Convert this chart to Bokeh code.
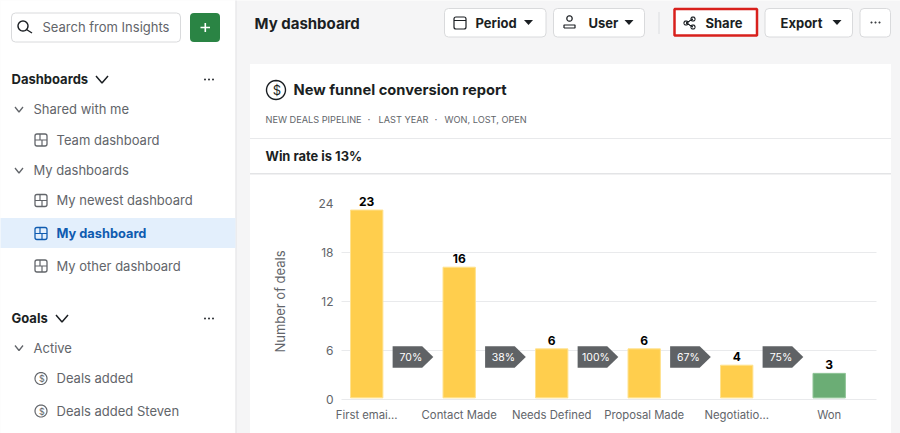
import numpy as np
from bokeh.embed import file_html
from bokeh.models import BoxAnnotation, ColumnDataSource, FixedTicker, Label, LinearAxis, PolyAnnotation, Range1d
from bokeh.plotting import figure
from bokeh.resources import INLINE
from bokeh.core.properties import value

# ---- data -------------------------------------------------------------
stages = ["First emai...", "Contact Made", "Needs Defined", "Proposal Made", "Negotiatio...", "Won"]
deals = [23, 16, 6, 6, 4, 3]
conversion = ["70%", "38%", "100%", "67%", "75%"]
y_ticks = [0, 6, 12, 18, 24]
grid_ticks = [0, 6, 12, 18]

FONT = "Inter"
GREY = "#62656a"
DARK = "#1b1f23"

W, H = 900, 433
# the default ranges are page pixels, for the interface around the chart
p = figure(width=W, height=H, output_backend="svg", toolbar_location=None,
           x_range=Range1d(0, W), y_range=Range1d(H, 0),
           x_axis_location=None, y_axis_location=None,
           min_border=0, min_border_left=0, min_border_right=0, min_border_top=0, min_border_bottom=0,
           background_fill_color="#f5f5f6", border_fill_color="#f5f5f6",
           outline_line_color=None)
p.grid.visible = False

# chart scales: first stage centre at 366.2px, 92.5px per stage; zero at 399px, 8.167px per deal
X0, XS, Y0, YS = 366.2, 92.5, 399.0, 196.0 / 24
p.extra_x_ranges = {"stage": Range1d((0 - X0) / XS, (W - X0) / XS)}
p.extra_y_ranges = {"deals": Range1d((Y0 - H) / YS, Y0 / YS)}

DX, DY = -0.5, -0.5   # shapes
TY = -1.2             # text


def box(x0, y0, x1, y1, fill="#ffffff", line=None, lw=1, radius=0):
    p.add_layout(BoxAnnotation(left=x0 + DX, right=x1 + DX, top=y0 + DY, bottom=y1 + DY,
                               fill_color=fill, fill_alpha=1, line_color=line, line_width=lw, line_alpha=1 if line else 0,
                               border_radius=radius, level="underlay", editable=False))


def poly(xs, ys, fill=None, line=None, lw=1.2):
    p.add_layout(PolyAnnotation(xs=[x + DX for x in xs], ys=[y + DY for y in ys],
                                fill_color=fill, fill_alpha=1 if fill else 0,
                                line_color=line, line_alpha=1 if line else 0, line_width=lw, level="overlay"))


def stroke(xs, ys, color=GREY, lw=1.2):
    xs = list(xs); ys = list(ys)
    poly(xs + xs[-2:0:-1], ys + ys[-2:0:-1], line=color, lw=lw)


def circle(cx, cy, r, fill=None, line=None, lw=1.2):
    t = np.linspace(0, 2 * np.pi, 33)[:-1]
    poly(cx + r * np.cos(t), cy + r * np.sin(t), fill=fill, line=line, lw=lw)


def text(x, y, s, size=13, color=GREY, bold=False, align="left"):
    p.add_layout(Label(x=x, y=y + TY, text=s,
                       text_font=FONT, text_font_size=f"{size}px", text_color=color,
                       text_font_style="bold" if bold else "normal",
                       text_align=align, text_baseline="middle"))


def chevron(cx, cy, w, h, color=GREY, lw=1.3):
    stroke([cx - w, cx, cx + w], [cy - h, cy + h, cy - h], color=color, lw=lw)


def caret(cx, cy, color=DARK):
    poly([cx - 4.5, cx + 4.5, cx], [cy - 2.5, cy - 2.5, cy + 2.5], fill=color)


def dots(cx, cy, color="#3a3d41"):
    for dx in (-4, 0, 4):
        circle(cx + dx, cy, 1, fill=color)


def grid_icon(cx, cy, color=GREY):
    box(cx - 6, cy - 6, cx + 6, cy + 6, fill=None, line=color, lw=1.3, radius=2)
    stroke([cx - 6, cx + 6], [cy, cy], color)
    stroke([cx - 1, cx - 1], [cy - 6, cy], color)
    stroke([cx + 1, cx + 1], [cy, cy + 6], color)


def dollar_icon(cx, cy, r=6, size=9, color=GREY, lw=1.2):
    circle(cx, cy, r, line=color, lw=lw)
    text(cx + 0.3, cy + 1, "$", size=size, color=color, align="center")


# ---- page chrome --------------------------------------------------------
box(0, 0, 235.5, H + 1, fill="#ffffff")
box(235.5, 0, 236.5, H + 1, fill="#e3e4e6")

box(11.5, 13, 180.5, 42, line="#d9dadc", radius=4)
circle(23, 26, 5, line="#1b1f23", lw=1.4)
stroke([26.5, 32], [29.5, 33], "#1b1f23", 1.4)
text(42, 27.5, "Search from Insights")
box(190, 13, 220, 42, fill="#2a8444", radius=4)
stroke([200.5, 210], [27.5, 27.5], "#ffffff", 1.6)
stroke([205.3, 205.3], [23, 32], "#ffffff", 1.6)

text(11, 80, "Dashboards", 13, DARK, True)
chevron(102, 79.5, 6, 3.5, DARK, 1.5)
dots(209, 79.5)
chevron(19, 109.5, 4, 2.5)
text(33, 110, "Shared with me")
grid_icon(41, 140)
text(56, 140.5, "Team dashboard")
chevron(19, 170.5, 4, 2.5)
text(33, 171, "My dashboards")
grid_icon(41, 200.5)
text(56, 201, "My newest dashboard")
box(0, 218, 235.5, 248, fill="#e3effc")
grid_icon(41, 233.5, "#0f5bb0")
text(56, 234, "My dashboard", 12.8, "#0f5bb0", True)
grid_icon(41, 266)
text(56, 266.5, "My other dashboard")
text(11, 319, "Goals", 13, DARK, True)
chevron(62, 318.5, 6, 3.5, DARK, 1.5)
dots(209, 318.5)
chevron(19, 348, 4, 2.5)
text(33, 348.5, "Active")
dollar_icon(41, 378.5)
text(56, 379, "Deals added")
dollar_icon(41, 411)
text(56, 411.5, "Deals added Steven")

text(254, 24, "My dashboard", 15, DARK, True)
for x0, x1 in [(444.5, 546), (553.5, 644.5), (765, 852.5), (860, 890.5)]:
    box(x0, 8.5, x1, 37, line="#d9dadc", radius=4)
box(658.5, 12, 659.5, 34, fill="#dcdde0")
box(674.5, 9, 757, 35.5, fill="#ffffff", line="#d8201c", lw=2.5)

box(454, 17, 466, 29, fill=None, line=DARK, lw=1.2, radius=2)
stroke([454, 466], [20.5, 20.5], DARK)
text(475, 24, "Period", 13, DARK, True)
caret(528.5, 22.5)
circle(569.5, 18.5, 2.7, line=DARK)
stroke([564, 564, 575, 575, 564], [28, 25, 25, 28, 28], DARK)
text(588, 24, "User", 13, DARK, True)
caret(629, 22.5)
circle(686, 23, 2, line=DARK)
circle(693, 19, 2, line=DARK)
circle(693, 27, 2, line=DARK)
stroke([693, 686, 693], [19, 23, 27], DARK, 1)
text(705, 24, "Share", 13, DARK, True)
text(780, 24, "Export", 13, DARK, True)
caret(837, 22.5)
dots(875.5, 22.5)

box(250, 64, 891, H + 1, fill="#ffffff")
box(250, 138, 891, 139, fill="#e8e9eb")
box(250, 173, 891, 174.5, fill="#e3e4e6")
dollar_icon(276, 90, 9.5, 13, DARK, 1.4)
text(293, 91, "New funnel conversion report", 14.7, DARK, True)
text(265, 120, "NEW DEALS PIPELINE", 9.2, GREY)
text(367, 120, "·", 10, GREY)
text(378, 120, "LAST YEAR", 9.2, GREY)
text(434, 120, "·", 10, GREY)
text(444, 120, "WON, LOST, OPEN", 9.2, GREY)
text(265, 157, "Win rate is 13%", 12.9, DARK, True)

# ---- chart --------------------------------------------------------------
positions = list(range(len(stages)))
CH = dict(x_range_name="stage", y_range_name="deals")

p.segment(x0=[(341 - X0) / XS] * len(grid_ticks), x1=[(876 - X0) / XS] * len(grid_ticks),
          y0=grid_ticks, y1=grid_ticks, line_color="#e9eaec", line_width=1, **CH)

bar_lift = 0.2  # the bars float just above the zero line
bars = ColumnDataSource(dict(
    x=positions,
    top=[v + bar_lift for v in deals],
    bottom=[bar_lift] * len(deals),
    label=[str(v) for v in deals],
    fill=["#ffce4d"] * (len(deals) - 1) + ["#6bad75"],
    line=["#ffe28f"] * (len(deals) - 1) + ["#8fc497"],
))
p.vbar(x="x", top="top", bottom="bottom", width=0.35, fill_color="fill", line_color="line", source=bars, **CH)
p.text(x="x", y="top", text="label", source=bars, text_font=value(FONT), text_font_size="12px",
       text_font_style="bold", text_color="#000000", text_align="center", text_baseline="bottom", y_offset=-4, **CH)

mids = [i + 0.5 for i in range(len(conversion))]
p.patches(xs=[[m - 0.22, m + 0.10, m + 0.22, m + 0.10, m - 0.22] for m in mids],
          ys=[[3.88, 3.88, 5.2, 6.53, 6.53] for _ in mids],
          fill_color="#5f6265", line_color=None, **CH)
p.text(x=mids, y=[5.1] * len(mids), text=conversion, text_font=value(FONT), text_font_size="10.5px",
       text_color="#ffffff", text_align="center", text_baseline="middle", x_offset=-2, **CH)

xaxis = LinearAxis(x_range_name="stage", fixed_location=399, ticker=FixedTicker(ticks=positions),
                   major_label_overrides=dict(zip(positions, stages)),
                   axis_line_color=None, major_tick_line_color=None, minor_tick_line_color=None,
                   major_label_standoff=2, major_label_text_font=FONT, major_label_text_font_size="11.3px",
                   major_label_text_color=GREY)
p.add_layout(xaxis, "below")

yaxis = LinearAxis(y_range_name="deals", fixed_location=341, ticker=FixedTicker(ticks=y_ticks), bounds=(0, 24),
                   axis_line_color=None, major_tick_line_color=None, minor_tick_line_color=None,
                   major_label_standoff=2, major_label_text_font=FONT, major_label_text_font_size="12px",
                   major_label_text_color=GREY,
                   axis_label="Number of deals", axis_label_text_font=FONT, axis_label_text_font_size="13px",
                   axis_label_text_font_style="normal", axis_label_text_color=GREY, axis_label_standoff=28)
p.add_layout(yaxis, "left")

open("out.html", "w").write(file_html(p, INLINE))
